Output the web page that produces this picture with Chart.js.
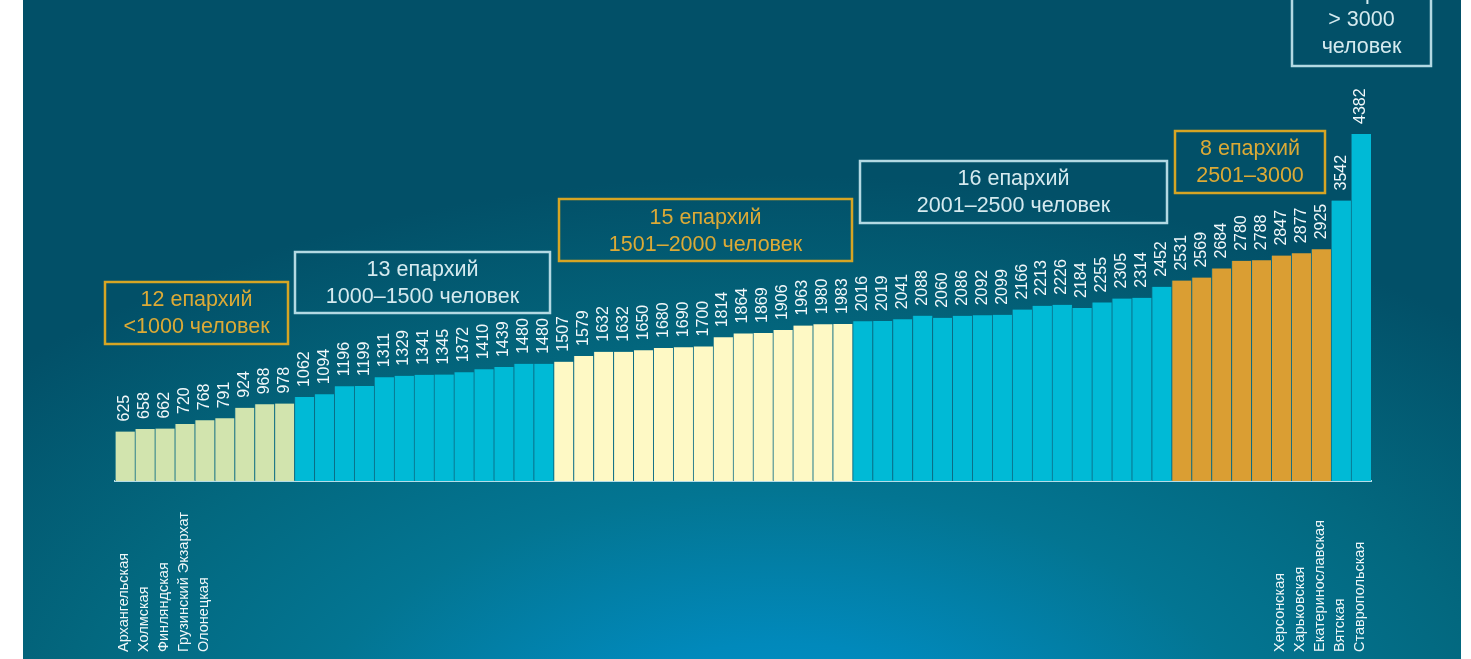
<!DOCTYPE html>
<html>
<head>
<meta charset="utf-8">
<script src="https://cdn.jsdelivr.net/npm/chart.js@4.4.1/dist/chart.umd.min.js"></script>
<style>
    html, body { margin: 0; padding: 0; background: #ffffff; overflow: hidden; }
    #panel {
        position: absolute; left: 23px; top: 0; width: 1438px; height: 659px;
        background: radial-gradient(ellipse 800px 450px at 757px 760px,
            #0194ca 0%, #0189bb 26%, #037592 60%, #03687f 90%, #025068 130%);
    }
    #chart { position: absolute; left: 0; top: 0; }
</style>
</head>
<body>
<div id="panel"></div>
<canvas id="chart" width="1471" height="659"></canvas>
<script>
// численность по епархиям (по возрастанию)
const greenValues  = [625, 658, 662, 720, 768, 791, 924, 968, 978];
const blueValues1  = [1062, 1094, 1196, 1199, 1311, 1329, 1341, 1345, 1372, 1410, 1439, 1480, 1480];
const creamValues  = [1507, 1579, 1632, 1632, 1650, 1680, 1690, 1700, 1814, 1864, 1869, 1906, 1963, 1980, 1983];
const blueValues2  = [2016, 2019, 2041, 2088, 2060, 2086, 2092, 2099, 2166, 2213, 2226, 2184, 2255, 2305, 2314, 2452];
const orangeValues = [2531, 2569, 2684, 2780, 2788, 2847, 2877, 2925];
const blueValues3  = [3542, 4382];

// подписанные епархии (первые и последние)
const firstNames = ['Архангельская', 'Холмская', 'Финляндская', 'Грузинский Экзархат', 'Олонецкая'];
const lastNames  = ['Херсонская', 'Харьковская', 'Екатеринославская', 'Вятская', 'Ставропольская'];

// подписи групп
const groupCaptions = [
    ['12 епархий', '<1000 человек'],
    ['13 епархий', '1000–1500 человек'],
    ['15 епархий', '1501–2000 человек'],
    ['16 епархий', '2001–2500 человек'],
    ['8 епархий', '2501–3000'],
    ['2 епархии', '> 3000', 'человек']
];

const GREEN = '#d2e4ae', BLUE = '#00bad6', CREAM = '#fef9c5', ORANGE = '#da9e33';
const GOLD_LINE = '#d6a524', GOLD_TEXT = '#dcaa36';
const PALE_LINE = '#b3d9e3', PALE_TEXT = '#d5eaef';

const groups = [
    { values: greenValues, color: GREEN },
    { values: blueValues1, color: BLUE },
    { values: creamValues, color: CREAM },
    { values: blueValues2, color: BLUE },
    { values: orangeValues, color: ORANGE },
    { values: blueValues3, color: BLUE }
];

// рамки подписей групп
const captionBoxes = [
    { x: 105,  y: 282, w: 183, h: 62, top: 300, line: GOLD_LINE, text: GOLD_TEXT },
    { x: 295,  y: 252, w: 255, h: 61, top: 270, line: PALE_LINE, text: PALE_TEXT },
    { x: 559,  y: 199, w: 293, h: 62, top: 218, line: GOLD_LINE, text: GOLD_TEXT },
    { x: 860,  y: 161, w: 307, h: 62, top: 179, line: PALE_LINE, text: PALE_TEXT },
    { x: 1175, y: 131, w: 150, h: 62, top: 149, line: GOLD_LINE, text: GOLD_TEXT },
    { x: 1292, y: -30, w: 139, h: 96, top: -7,  line: PALE_LINE, text: PALE_TEXT }
];

const values = [];
const colors = [];
groups.forEach(g => {
    g.values.forEach(v => { values.push(v); colors.push(g.color); });
});
const labels = firstNames.concat(new Array(values.length - firstNames.length - lastNames.length).fill(''), lastNames);

const FONT = "'Liberation Sans', Arial, sans-serif";

const overlayPlugin = {
    id: 'overlay',
    afterDatasetsDraw(chart) {
        const ctx = chart.ctx;
        const meta = chart.getDatasetMeta(0);
        const xScale = chart.scales.x;

        ctx.save();
        // значения над столбцами
        ctx.fillStyle = '#f2f8fa';
        ctx.font = '16px ' + FONT;
        ctx.textAlign = 'left';
        ctx.textBaseline = 'middle';
        meta.data.forEach((bar, i) => {
            ctx.save();
            ctx.translate(bar.x, bar.y - 10);
            ctx.rotate(-Math.PI / 2);
            ctx.fillText(String(values[i]), 0, 0);
            ctx.restore();
        });

        // названия епархий
        ctx.fillStyle = '#eef6f8';
        ctx.font = '14.5px ' + FONT;
        labels.forEach((name, i) => {
            if (!name) return;
            ctx.save();
            ctx.translate(xScale.getPixelForValue(i) - 1, 652);
            ctx.rotate(-Math.PI / 2);
            ctx.fillText(name, 0, 0);
            ctx.restore();
        });

        // рамки групп
        ctx.font = '21.5px ' + FONT;
        ctx.textAlign = 'center';
        captionBoxes.forEach((b, k) => {
            ctx.strokeStyle = b.line;
            ctx.lineWidth = 2.5;
            ctx.strokeRect(b.x, b.y, b.w, b.h);
            ctx.fillStyle = b.text;
            groupCaptions[k].forEach((line, j) => {
                ctx.fillText(line, b.x + b.w / 2, b.top + j * 27);
            });
        });
        ctx.restore();
    }
};

new Chart(document.getElementById('chart'), {
    type: 'bar',
    data: {
        labels: labels,
        datasets: [{
            data: values,
            backgroundColor: colors,
            borderColor: '#0c6c84',
            borderWidth: { left: 1, right: 0, top: 0, bottom: 0 },
            borderSkipped: false,
            barPercentage: 1,
            categoryPercentage: 1
        }]
    },
    options: {
        responsive: false,
        devicePixelRatio: 1,
        animation: false,
        layout: { padding: { left: 115, right: 100, top: 0, bottom: 0 } },
        plugins: { legend: { display: false }, tooltip: { enabled: false } },
        scales: {
            x: {
                grid: { display: false },
                ticks: { display: false },
                border: { display: true, color: '#b4dde7', width: 2 },
                afterFit: s => { s.height = 178; }
            },
            y: { display: false, min: 0, max: 6074 }
        }
    },
    plugins: [overlayPlugin]
});
</script>
</body>
</html>
